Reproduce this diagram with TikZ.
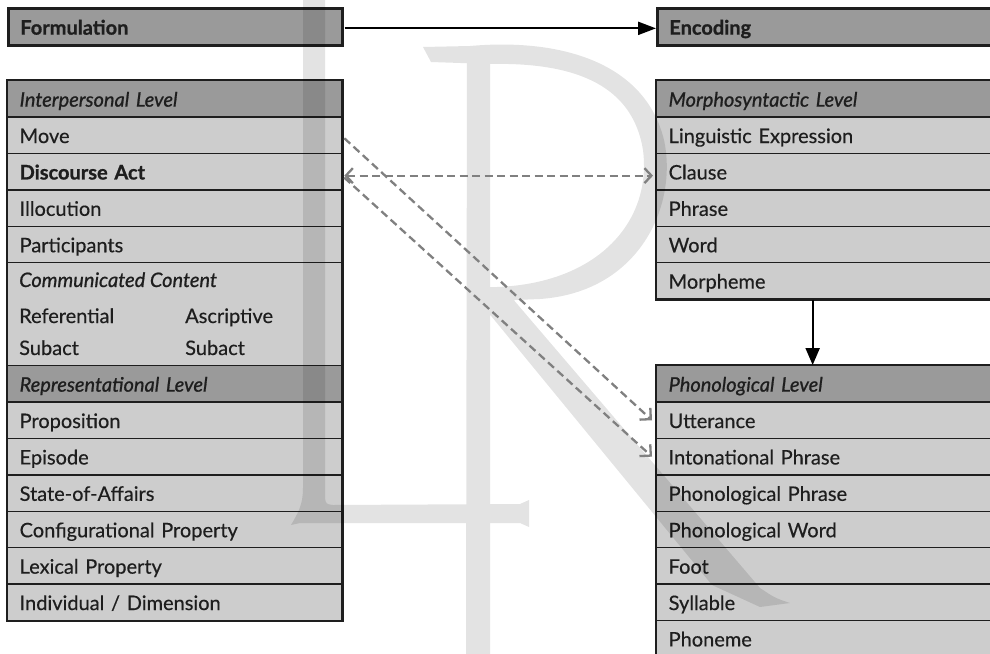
\documentclass[tikz,border=0pt]{standalone}
\usepackage{fontspec}
\setmainfont{Lato}[UprightFeatures={FakeBold=0.4}, ItalicFeatures={FakeBold=0.9}, BoldFeatures={FakeBold=0.9}]
\usetikzlibrary{arrows.meta,calc}
\definecolor{hdr}{HTML}{9A9A9A}
\definecolor{rowc}{HTML}{CDCDCD}
\definecolor{ink}{HTML}{1E1E1E}
\definecolor{dgray}{HTML}{808080}
\begin{document}
\begin{tikzpicture}[x=1pt,y=-1pt,
  font=\fontsize{20}{24}\selectfont,
  cell/.style={rectangle, draw=ink, line width=1.3pt, fill=rowc, anchor=north west,
    minimum height=36.4pt, text width=310pt, inner xsep=12pt, inner ysep=0pt,
    align=left, text height=16pt, text depth=0.4pt, text=ink},
  head/.style={cell, fill=hdr, font=\fontsize{20}{24}\selectfont\itshape},
  titlebox/.style={cell, fill=hdr, line width=2.7pt, minimum height=37pt, font=\fontsize{20}{24}\selectfont\bfseries},
  frame/.style={draw=ink, line width=2.7pt},
  plain/.style={anchor=base west, inner sep=0pt, text=ink},
  solidarrow/.style={draw=black, line width=2.2pt, -{Triangle[length=18pt,width=13pt]}},
  dasharrow/.style={draw=dgray, line width=2.3pt, dash pattern=on 8pt off 4.5pt},
]
\useasboundingbox (0,0) rectangle (990,653);
\clip (0,0) rectangle (990,653);
\fill[white] (0,0) rectangle (990,653);

% top boxes
\node[titlebox] (form) at (7,7) {Formulation};
\node[titlebox] (enc) at (656,7) {Encoding};

% left column
\node[head] (ilh) at (7,80) {Interpersonal Level};
\node[cell] (move) at (7,116.4) {Move};
\node[cell, font=\fontsize{20}{24}\selectfont\bfseries] (da) at (7,152.8) {Discourse Act};
\node[cell] (ill) at (7,189.2) {Illocution};
\node[cell] (part) at (7,225.6) {Participants};
\node[cell, minimum height=103pt] (cc) at (7,262) {};
\node[plain, font=\fontsize{20}{24}\selectfont\itshape] (cct) at (19,287) {Communicated Content};
\node[plain] (refa) at (19,323) {Referential};
\node[plain] (refb) at (19,355) {Subact};
\node[plain] (asca) at (185,323) {Ascriptive};
\node[plain] (ascb) at (185,355) {Subact};
\node[head] (rlh) at (7,365) {Representational Level};
\node[cell] (prop) at (7,401.4) {Proposition};
\node[cell] (epi) at (7,437.8) {Episode};
\node[cell] (soa) at (7,474.2) {State-of-Affairs};
\node[cell] (conf) at (7,510.6) {Configurational Property};
\node[cell] (lex) at (7,547) {Lexical Property};
\node[cell] (indiv) at (7,583.4) {Individual / Dimension};
\draw[frame] (ilh.north west) rectangle (indiv.south east);

% right column
\node[head] (mlh) at (656,80) {Morphosyntactic Level};
\node[cell] (lexp) at (656,116.4) {Linguistic Expression};
\node[cell] (clause) at (656,152.8) {Clause};
\node[cell] (phrase) at (656,189.2) {Phrase};
\node[cell] (word) at (656,225.6) {Word};
\node[cell] (morph) at (656,262) {Morpheme};
\draw[frame] (mlh.north west) rectangle (morph.south east);

\node[head] (plh) at (656,365) {Phonological Level};
\node[cell] (utt) at (656,401.4) {Utterance};
\node[cell] (ip) at (656,437.8) {Intonational Phrase};
\node[cell] (pp) at (656,474.2) {Phonological Phrase};
\node[cell] (pw) at (656,510.6) {Phonological Word};
\node[cell] (foot) at (656,547) {Foot};
\node[cell] (syl) at (656,583.4) {Syllable};
\node[cell] (phon) at (656,619.8) {Phoneme};
\draw[frame] (plh.north west) rectangle (phon.south east);

% watermark (LR monogram)
\fill[black, opacity=0.11]
  % L stem with foot and cross bar
  (303,0) -- (325,0) -- (325,498) .. controls (326,504) .. (333,505) -- (520,504) -- (529,500) -- (529,527)
  -- (520,523) -- (300,523) -- (291,525) .. controls (298,513) and (303,505) .. (303,488) -- cycle
  % R stem
  (467,52) -- (490,52) -- (490,660) -- (466,660) -- cycle
  % R serif and bowl
  (423,47) -- (470,46) .. controls (560,38) and (645,62) .. (664,140)
  .. controls (678,205) and (640,292) .. (540,299) -- (490,301) -- (490,287)
  -- (497,287) .. controls (600,283) and (652,220) .. (643,150)
  .. controls (633,88) and (580,62) .. (490,64) -- (431,62) -- cycle
  % R leg
  (478,300) -- (512,298) -- (760,588) .. controls (775,598) .. (790,603) -- (760,607) -- (712,585) -- cycle;

% connectors
\draw[solidarrow] ($(form.east)+(1,1.5)$) -- ($(enc.west)+(0,1.5)$);
\draw[solidarrow, -{Triangle[length=17pt,width=14pt]}] ($(morph.south)+(-11,0)$) -- ($(plh.north)+(-11,0)$);
\draw[dasharrow, {Straight Barb[length=7pt,width=15pt]}-{Straight Barb[length=7pt,width=15pt]}]
  ($(da.east)+(2,4)$) -- ($(clause.west)+(-3,4)$);
\draw[dasharrow, -{Straight Barb[length=8pt,width=16pt]}] ($(move.east)+(2,3)$) -- ($(utt.west)+(-4,0)$);
\draw[dasharrow, -{Straight Barb[length=8pt,width=16pt]}] ($(da.east)+(2,6)$) -- ($(ip.west)+(-4,0)$);
\end{tikzpicture}
\end{document}
